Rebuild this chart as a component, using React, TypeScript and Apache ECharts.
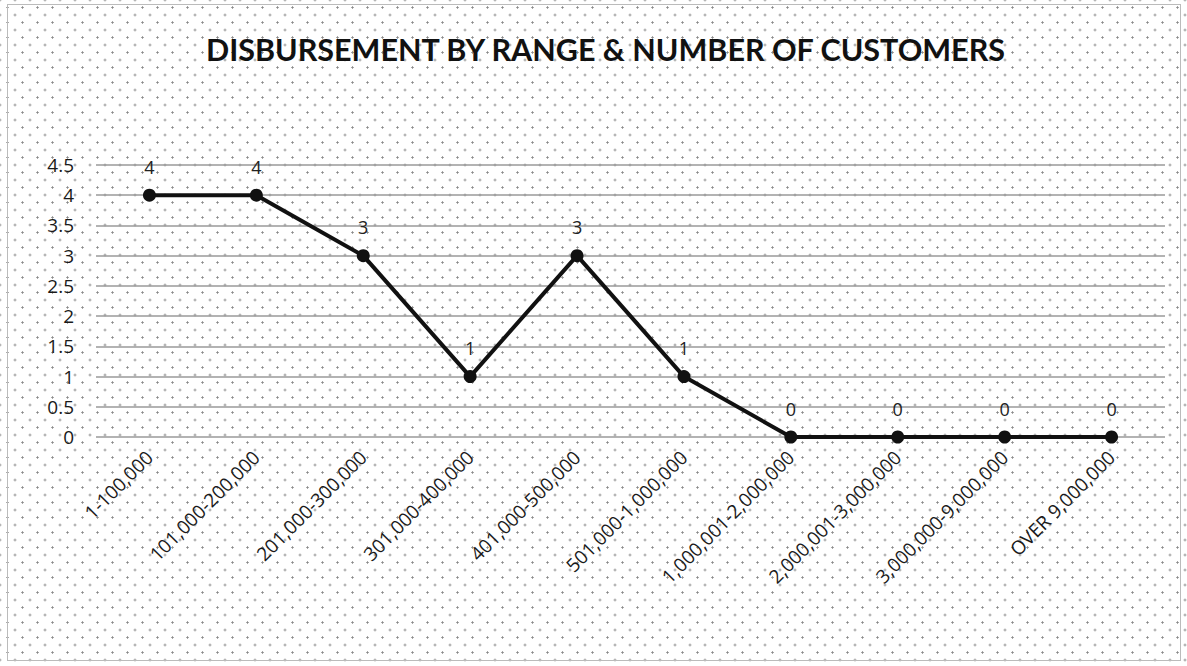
import React, { useEffect, useRef } from "react";
import * as echarts from "echarts";

const categories = [
  "1-100,000",
  "101,000-200,000",
  "201,000-300,000",
  "301,000-400,000",
  "401,000-500,000",
  "501,000-1,000,000",
  "1,000,001-2,000,000",
  "2,000,001-3,000,000",
  "3,000,000-9,000,000",
  "OVER 9,000,000",
];
const customers = [4, 4, 3, 1, 3, 1, 0, 0, 0, 0];
const titleText = "DISBURSEMENT BY RANGE & NUMBER OF CUSTOMERS";

export default function App() {
  const ref = useRef<HTMLDivElement>(null);
  useEffect(() => {
    if (!ref.current) return;
    const chart = echarts.init(ref.current, null, { renderer: "svg" });
    chart.setOption({
      animation: false,
      backgroundColor: "transparent",
      title: {
        text: titleText,
        left: 201,
        top: 28,
        textStyle: {
          fontFamily: "Lato",
          fontWeight: "bold",
          fontSize: 30.5,
          color: "#111",
        },
      },
      grid: { left: 96, right: 22, top: 165, bottom: 229 },
      xAxis: {
        type: "category",
        data: categories,
        boundaryGap: true,
        axisLine: { show: false },
        axisTick: { show: false },
        axisLabel: {
          rotate: 45,
          margin: 17,
          fontFamily: "Open Sans",
          fontSize: 19,
          color: "#1a1a1a",
          interval: 0,
        },
      },
      yAxis: {
        type: "value",
        min: 0,
        max: 4.5,
        interval: 0.5,
        axisLine: { show: false },
        axisTick: { show: false },
        axisLabel: {
          margin: 22,
          fontFamily: "Open Sans",
          fontSize: 19,
          color: "#1a1a1a",
        },
        splitLine: { lineStyle: { color: "#9a9a9a", width: 1.5 } },
      },
      series: [
        {
          type: "line",
          data: customers,
          symbol: "circle",
          symbolSize: 13,
          lineStyle: { color: "#111", width: 4 },
          itemStyle: { color: "#111" },
          label: {
            show: true,
            position: "top",
            distance: 13,
            fontFamily: "Open Sans",
            fontSize: 18,
            color: "#222",
          },
        },
      ],
    });
    return () => chart.dispose();
  }, []);
  return (
    <div
      style={{
        position: "absolute",
        left: 0,
        top: 0,
        width: 1187,
        height: 666,
        background: "#fff",
        backgroundImage:
          "radial-gradient(circle, #8a8a8a 0.9px, transparent 1.3px), radial-gradient(circle, #8a8a8a 0.9px, transparent 1.3px)",
        backgroundSize: "15px 15px, 15px 15px",
        backgroundPosition: "0 0, 7.5px 7.5px",
      }}
    >
      <div
        style={{
          position: "absolute",
          left: 7,
          top: 4,
          width: 1172,
          height: 655,
          border: "1px solid #bbb",
        }}
      />
      <div ref={ref} style={{ position: "absolute", left: 0, top: 0, width: 1187, height: 666 }} />
    </div>
  );
}
